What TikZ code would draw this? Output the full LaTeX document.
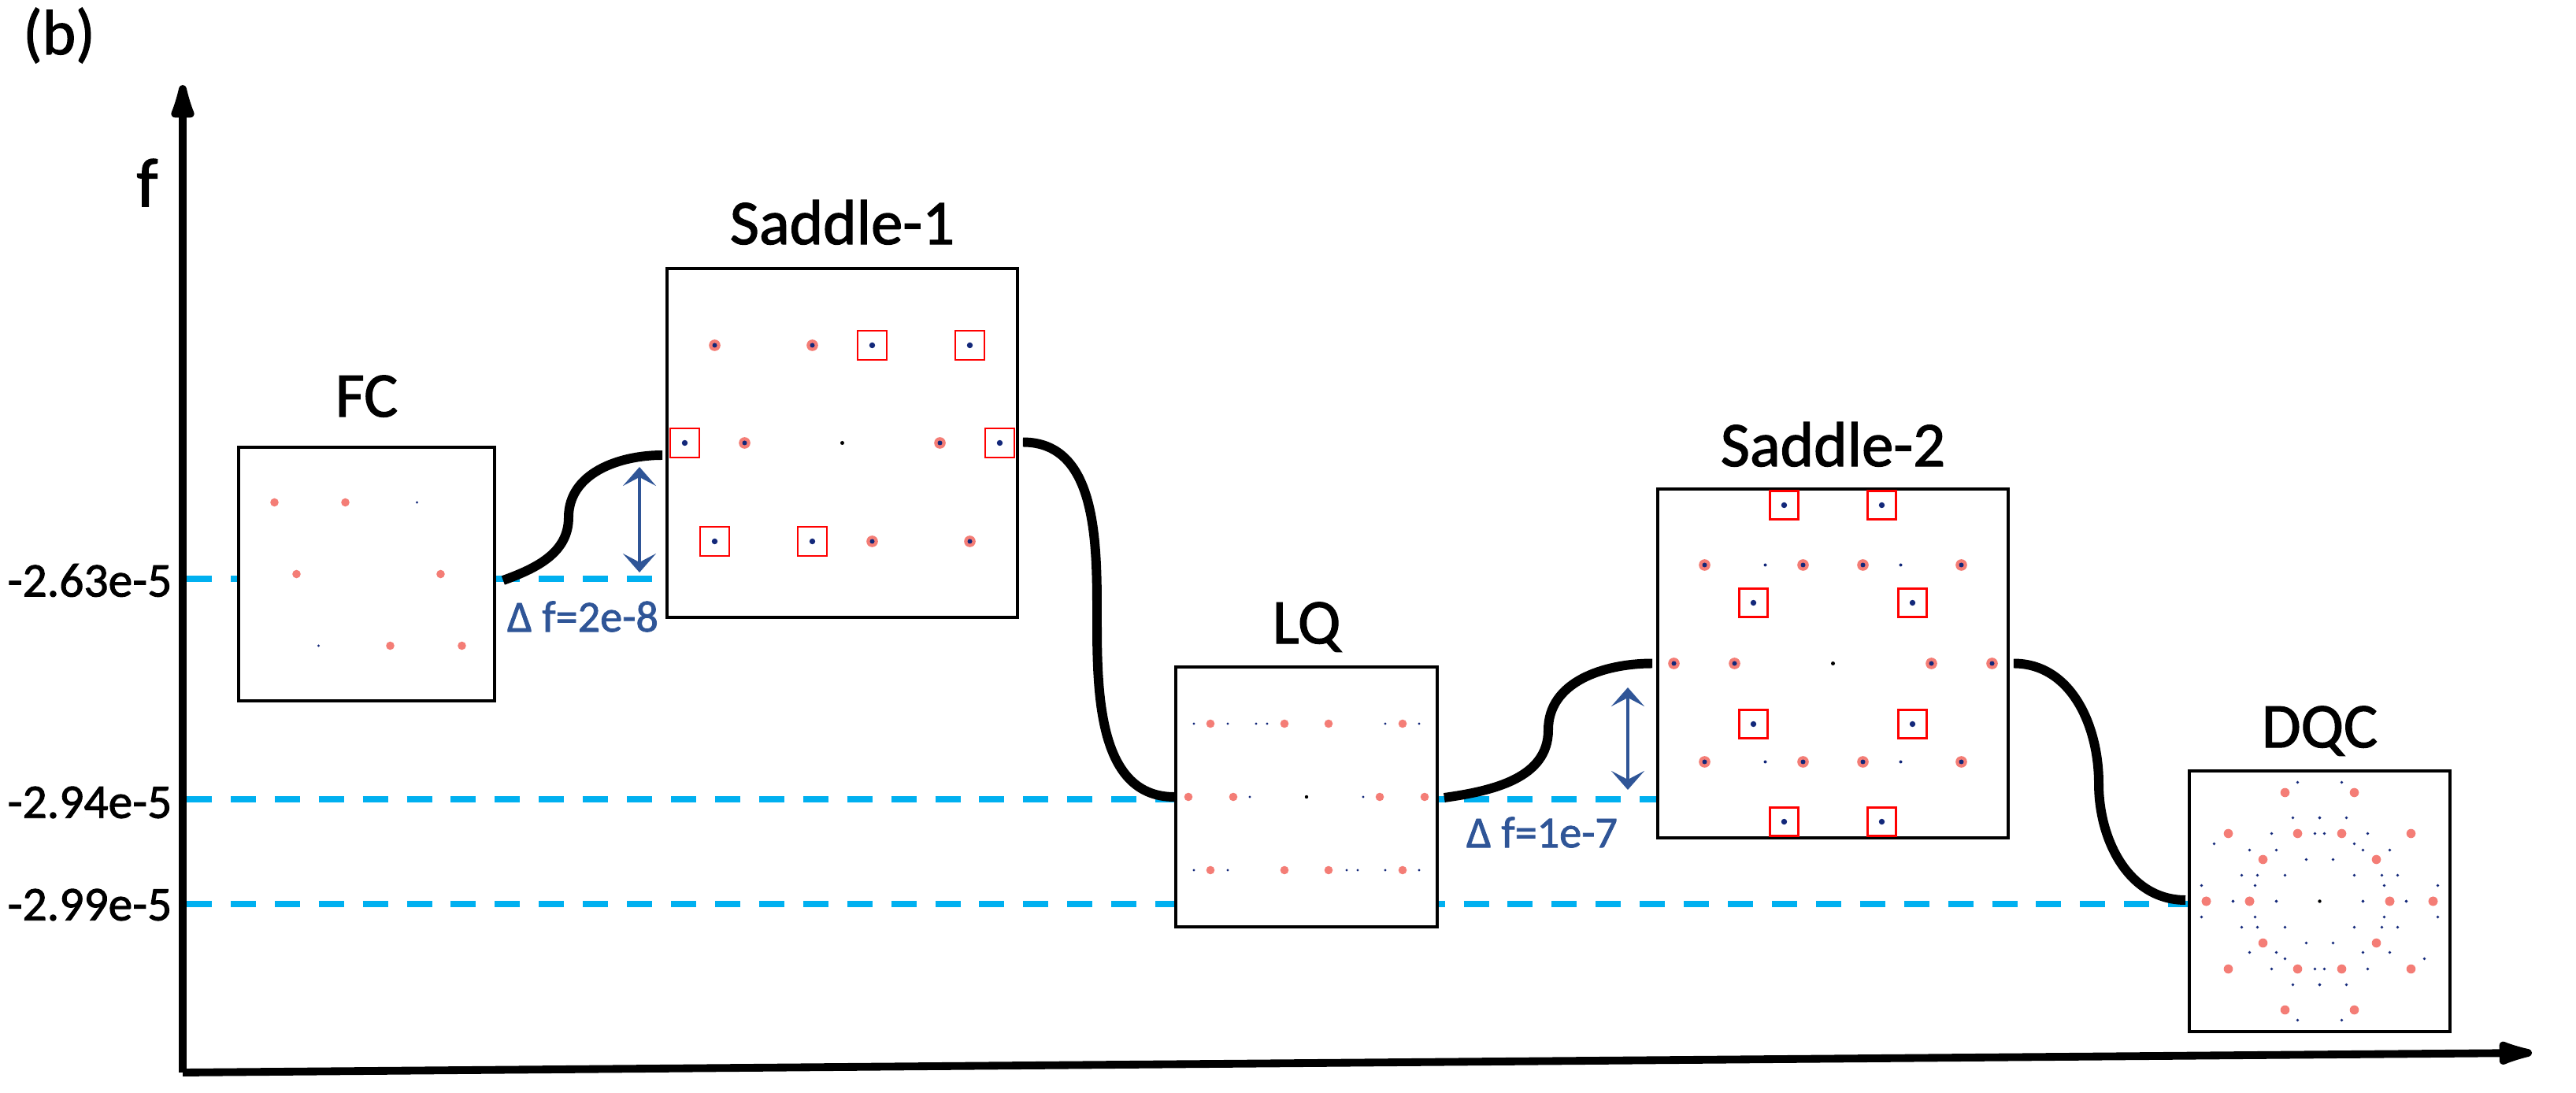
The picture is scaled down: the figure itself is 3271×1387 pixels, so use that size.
\documentclass[tikz,border=0pt]{standalone}
\usepackage{fontspec}
\setmainfont{Carlito}[FakeBold=1.5]
\usepackage{tikz}
\usetikzlibrary{arrows.meta,positioning,calc,backgrounds}
\definecolor{atomred}{HTML}{F47D76}
\definecolor{atomblue}{HTML}{13287A}
\definecolor{levelcyan}{HTML}{00B0F0}
\definecolor{gapblue}{HTML}{2F5597}
\newcommand{\bigfont}{\fontsize{23}{28}\selectfont}
\tikzset{
  panel/.style     = {draw, line width=1pt, fill=white, inner sep=0pt},
  statename/.style = {font=\bigfont, inner sep=0pt, anchor=base},
  axisline/.style  = {line width=2.8pt, -{Latex[length=6.5mm,width=3.4mm,round]}},
  pathline/.style  = {line width=3.4pt},
  levelline/.style = {levelcyan, line width=2pt, dash pattern=on 9.1pt off 6.8pt},
  gaparr/.style    = {gapblue, line width=1.1pt, <->,
                      >={Stealth[length=2.4mm,width=4.2mm,inset=1.1mm]}},
  gaplbl/.style    = {gapblue, font=\fontsize{16}{19}\selectfont, inner sep=0pt},
  ticklbl/.style   = {anchor=east, inner sep=0pt, font=\fontsize{17.5}{21}\selectfont},
  sitebox/.style   = {draw=red, line width=0.75pt}
}

\begin{document}
\begin{tikzpicture}[x=0.01cm, y=0.01cm]
  \useasboundingbox (0,0) rectangle (3271,1387);
  % --- axes
  \coordinate (o) at (232,25);
  \coordinate (ytip) at (232,1279);
  \coordinate (xtip) at (3215,50);
  \draw[axisline] (o) -- (ytip);
  \draw[axisline] (o) -- (xtip);
  \node[font=\bigfont, inner sep=0pt] (tag) at (75,1342) {(b)};
  \node[font=\fontsize{25}{30}\selectfont, inner sep=0pt] (flbl) at (187,1155) {f};
  % --- states
  \node[panel, minimum width=3.25cm, minimum height=3.22cm] (fc)   at (465.5,658) {};
  \node[panel, minimum width=4.45cm, minimum height=4.43cm] (sad1) at (1069.5,824.5) {};
  \node[panel, minimum width=3.32cm, minimum height=3.30cm] (lq)   at (1659,375) {};
  \node[panel, minimum width=4.45cm, minimum height=4.43cm] (sad2) at (2327.5,544.5) {};
  \node[panel, minimum width=3.31cm, minimum height=3.31cm] (dqc)  at (2945.5,242.5) {};
  \node[statename, above=3.7mm of fc, anchor=base]   (fcname)   {FC};
  \node[statename, above=2.9mm of sad1, anchor=base] (sad1name) {Saddle-1};
  \node[statename, above=2.8mm of lq, anchor=base]   (lqname)   {LQ};
  \node[statename, above=2.7mm of sad2, anchor=base] (sad2name) {Saddle-2};
  \node[statename, above=2.8mm of dqc, anchor=base]  (dqcname)  {DQC};
  % --- energy levels
  \coordinate (lev1) at (237,652);
  \coordinate (lev2) at (237,372);
  \coordinate (lev3) at (237,239);
  \node[ticklbl] (t1) at (219,650) {-2.63e-5};
  \node[ticklbl] (t2) at (219,368) {-2.94e-5};
  \node[ticklbl] (t3) at (219,238) {-2.99e-5};
  \begin{scope}[on background layer]
    \draw[levelline] (lev1) -- (lev1 -| sad1.west);
    \draw[levelline] (lev2) -- (lev2 -| sad2.west);
    \draw[levelline] (lev3) -- (lev3 -| dqc.west);
  \end{scope}
  % --- transition path
  \draw[pathline] ($(fc.east)+(9,-8)$) to[out=20,in=-90] (722,730)
        to[out=90,in=180] ($(sad1.west)+(-4,-15.5)$);
  \draw[pathline] ($(sad1.east)+(5,1)$) to[out=0,in=90] (1393,600)
        to[out=-90,in=180] (lq.west);
  \draw[pathline] ($(lq.east)+(7,-1)$) to[out=8,in=-90] (1966,460)
        to[out=90,in=180] ($(sad2.west)+(-5,0)$);
  \draw[pathline] ($(sad2.east)+(5,0)$) to[out=0,in=90] (2665,392)
        to[out=-90,in=180] ($(dqc.west)+(-3,1.5)$);
  % --- barriers
  \coordinate (g1a) at (812,794);
  \coordinate (g1b) at (812,660);
  \coordinate (g2a) at (2067,514);
  \coordinate (g2b) at (2067,384);
  \draw[gaparr] (g1a) -- (g1b);
  \draw[gaparr] (g2a) -- (g2b);
  \node[gaplbl] (d1) at (740,604) {Δ f=2e-8};
  \node[gaplbl] (d2) at (1958,330) {Δ f=1e-7};
  % --- FC pattern
  \begin{scope}[shift={(fc.center)}]
    \foreach \x/\y in {-117/91,-27/91,-89/0,94/0,30/-91,121/-91}
      \fill[atomred] (\x,\y) circle (0.053cm);
    \foreach \x/\y in {64/91,-61/-91}
      \fill[atomblue] (\x,\y) circle (0.017cm);
  \end{scope}
  % --- Saddle-1 pattern
  \begin{scope}[shift={(sad1.center)}]
    \foreach \x/\y in {-162/124,-38/124,-124/0,124/0,38/-125,162/-125}
      {\fill[atomred] (\x,\y) circle (0.073cm); \fill[atomblue] (\x,\y) circle (0.03cm);}
    \foreach \x/\y in {38/124,162/124,-200/0,200/0,-162/-125,-38/-125}
      {\fill[atomblue] (\x,\y) circle (0.037cm);
       \draw[sitebox] (\x,\y) ++(-18.5,-18.5) rectangle ++(37,37);}
    \fill (0,0) circle (0.025cm);
  \end{scope}
  % --- LQ pattern
  \begin{scope}[shift={(lq.center)}]
    \foreach \x/\y in {-122/93,-28/93,28/93,122/93,-150/0,-93/0,93/0,150/0,
                       -122/-93,-28/-93,28/-93,122/-93}
      \fill[atomred] (\x,\y) circle (0.053cm);
    \foreach \x/\y in {-143/93,-100/93,-64/93,-50/93,100/93,143/93,-72/0,72/0,
                       -143/-93,-100/-93,51/-93,65/-93,100/-93,143/-93}
      \fill[atomblue] (\x,\y) circle (0.017cm);
    \fill (0,0) circle (0.022cm);
  \end{scope}
  % --- Saddle-2 pattern
  \begin{scope}[shift={(sad2.center)}]
    \foreach \x/\y in {-163/125,-38/125,38/125,163/125,-202/0,-125/0,125/0,202/0,
                       -163/-125,-38/-125,38/-125,163/-125}
      {\fill[atomred] (\x,\y) circle (0.073cm); \fill[atomblue] (\x,\y) circle (0.03cm);}
    \foreach \x/\y in {-62/201,62/201,-101/77,101/77,-101/-77,101/-77,-62/-201,62/-201}
      {\fill[atomblue] (\x,\y) circle (0.037cm);
       \draw[sitebox] (\x,\y) ++(-18,-18) rectangle ++(36,36);}
    \foreach \x/\y in {-86/125,86/125,-86/-125,86/-125}
      \fill[atomblue] (\x,\y) circle (0.02cm);
    \fill (0,0) circle (0.025cm);
  \end{scope}
  % --- DQC pattern, mirrored in both directions
  \begin{scope}[shift={(dqc.center)}]
    \foreach \x/\y in {44/138,116/86,28/86,72/53,144/0,89/0}
      {\fill[atomred] (\x,\y) circle (0.058cm); \fill[atomred] (-\x,\y) circle (0.058cm);
       \fill[atomred] (\x,-\y) circle (0.058cm); \fill[atomred] (-\x,-\y) circle (0.058cm);}
    \foreach \x/\y in {28/151,34/106,0/106,61/86,6/86,55/65,89/65,17/53,99/33,79/33,44/33,
                       150/20,82/20,110/0,55/0}
      {\fill[atomblue] (\x,\y) circle (0.018cm); \fill[atomblue] (-\x,\y) circle (0.018cm);
       \fill[atomblue] (\x,-\y) circle (0.018cm); \fill[atomblue] (-\x,-\y) circle (0.018cm);}
    \foreach \x/\y in {-134/73,44/73,-44/-73,133/-73}
      \fill[atomblue] (\x,\y) circle (0.018cm);
    \fill (0,0) circle (0.022cm);
  \end{scope}
\end{tikzpicture}
\end{document}
